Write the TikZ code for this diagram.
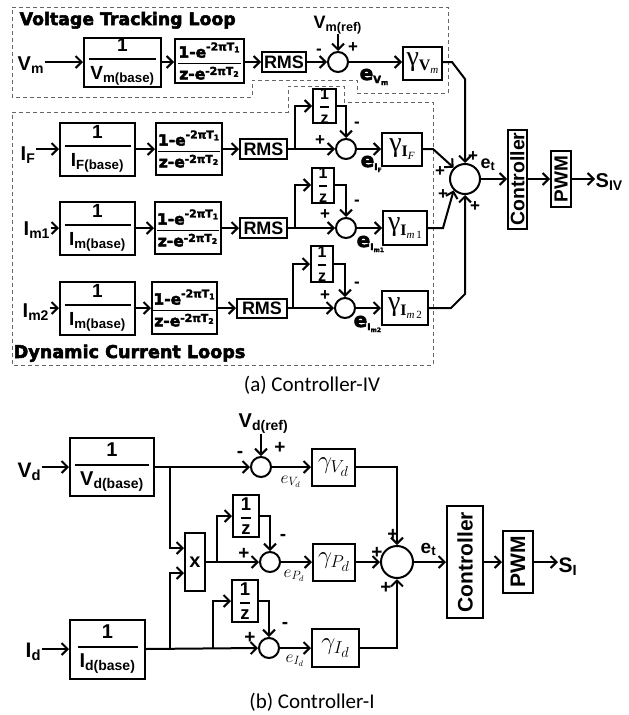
\documentclass[tikz,border=0pt]{standalone}
\usepackage{fontspec}
\usepackage{amsmath}
\usepackage{graphicx}
\usetikzlibrary{arrows.meta}
\setmainfont{Liberation Sans}
\newfontfamily\heavyf{DejaVu Sans}[BoldFeatures={FakeBold=3}]
\newfontfamily\capfont{Carlito}
\newfontfamily\timesfont{Liberation Serif}
\newcommand\fsz[1]{\fontsize{#1}{#1}\selectfont}
\newcommand\lw[3]{\raisebox{-#1pt}{\fsz{#2}#3}}
\newcommand\fracA[2]{$\genfrac{}{}{2pt}{0}{\makebox[#1pt]{\bfseries 1}}{\makebox[#1pt]{\bfseries #2}}$}
\newcommand\fracB{{\heavyf\bfseries\fsz{15.5}$\genfrac{}{}{0.9pt}{0}{\text{1-e}^{\text{-2πT}_{\text{1}}}}{\text{z-e}^{\text{-2πT}_{\text{2}}}}$}}
\newcommand\fracZ[1]{{\fsz{#1}$\genfrac{}{}{1.8pt}{0}{\text{\bfseries 1}}{\text{\bfseries z}}$}}
\tikzset{
  ln/.style={line width=2pt},
  ar/.style={line width=2pt, -{Straight Barb[length=6pt,width=12pt]}},
  blk/.style={draw, line width=2pt, inner sep=0pt},
  sumc/.style={draw, circle, line width=2pt, inner sep=0pt, minimum size=20},
  dsh/.style={draw=black!60, line width=0.9pt, dash pattern=on 4pt off 3pt},
  txt/.style={inner sep=0.5pt},
  sgn/.style={inner sep=0pt, font=\fsz{17}\bfseries},
}
\begin{document}
\begin{tikzpicture}[x=1pt,y=-1pt]
\useasboundingbox (0,0) rectangle (629,715);
% ---------------- dashed regions
\draw[dsh] (12,7) -- (448,7) -- (448,93) -- (357,93) -- (357,80) -- (252,80) -- (252,97) -- (12,97) -- cycle;
\draw[dsh] (12,112) -- (288,112) -- (288,86) -- (344,86) -- (344,102) -- (433,102) -- (433,365) -- (12,365) -- cycle;
\node[txt, anchor=base west] (ttlv) at (19,25) {\heavyf\bfseries\fsz{17.3}Voltage Tracking Loop};
\node[txt, anchor=base west] (ttlc) at (13,358) {\heavyf\bfseries\fsz{17.6}Dynamic Current Loops};
% ---------------- main sum (top)
\node[sumc, minimum size=30] (ms) at (465,179) {};
% ---------------- row V
\node[txt, anchor=base west] (vm) at (17,70) {\fsz{20}\bfseries V\textsubscript{m}};
\node[blk, minimum width=77, minimum height=49] (b1v) at (122.5,62) {\fsz{19}\fracA{67}{V\textsubscript{m(base)}}};
\node[blk, minimum width=69, minimum height=44] (b2v) at (209.5,61) {\fracB};
\node[blk, minimum width=44, minimum height=20] (rmsv) at (284,62) {\fsz{18}\bfseries RMS};
\node[sumc] (sv) at (338,62) {};
\node[txt, anchor=base west] (vmref) at (313,28) {\fsz{18}\bfseries V\textsubscript{m(ref)}};
\node[sgn] (mv) at (319,52) {-};
\node[sgn] (pv) at (353,48) {+};
\node[blk, minimum width=39, minimum height=33] (gv) at (422.5,63) {\timesfont\fsz{28}γ\lw{5}{16}{\textbf{V}\lw{3}{11}{\textit{m}}}};
\node[txt, anchor=base west] (ev) at (359,80) {\heavyf\bfseries\fsz{20}e\lw{3}{10}{V\lw{2}{7}{m}}};
\coordinate (kv1) at (452,62);
\coordinate (kv2) at (465,79);
\draw[ar] (vm.east |- b1v.west) -- (b1v.west);
\draw[ar] (b1v.east) -- (b1v.east -| b2v.west);
\draw[ar] (b2v.east |- rmsv.west) -- (rmsv.west);
\draw[ar] (rmsv.east) -- (sv.west);
\draw[ar] (vmref.south -| sv.north) -- (sv.north);
\draw[ar] (sv.east) -- (sv.east -| gv.west);
\draw[ar] (gv.east |- kv1) -- (kv1) -- (kv2) -- (ms.north);
% ---------------- row F
\node[txt, anchor=base west] (if) at (20,160) {\fsz{20}\bfseries I\textsubscript{F}};
\node[blk, minimum width=75, minimum height=53] (b1f) at (97.5,149) {\fsz{19}\fracA{66}{I\textsubscript{F(base)}}};
\node[blk, minimum width=66, minimum height=52] (b2f) at (189,149) {\fracB};
\node[blk, minimum width=47, minimum height=20] (rmsf) at (263.5,149) {\fsz{18}\bfseries RMS};
\node[blk, minimum width=23, minimum height=34] (zf) at (324.5,106) {\fracZ{16}};
\node[sumc] (sf) at (346,149) {};
\node[blk, minimum width=40, minimum height=33] (gf) at (402,149) {\timesfont\fsz{28}γ\lw{5}{16}{\textbf{I}\lw{3}{11}{\textit{F}}}};
\node[sgn] (mf) at (357,125) {-};
\node[sgn] (pf) at (320,141) {+};
\node[txt, anchor=base west] (ef) at (360,167) {\heavyf\bfseries\fsz{20}e\lw{3}{9}{I\lw{2}{6}{F}}};
\coordinate (bf) at (295,149);
\coordinate (kf) at (433,149);
\draw[ar] (if.east |- b1f.west) -- (b1f.west);
\draw[ar] (b1f.east) -- (b2f.west);
\draw[ar] (b2f.east) -- (rmsf.west);
\draw[ar] (rmsf.east) -- (sf.west);
\draw[ar] (bf) |- (zf.west);
\draw[ar] (zf.east) -| (sf.north);
\draw[ar] (sf.east) -- (gf.west);
\draw[ar] (gf.east) -- (kf) -- (ms.135);
% ---------------- row m1
\node[txt, anchor=base west] (im1) at (23,235) {\fsz{20}\bfseries I\textsubscript{m1}};
\node[blk, minimum width=75, minimum height=53] (b1m) at (97.5,228) {\fsz{19}\fracA{66}{I\textsubscript{m(base)}}};
\node[blk, minimum width=66, minimum height=52] (b2m) at (188,228) {\fracB};
\node[blk, minimum width=47, minimum height=20] (rmsm) at (263.5,228) {\fsz{18}\bfseries RMS};
\node[blk, minimum width=22, minimum height=35] (zm) at (323,185) {\fracZ{16}};
\node[sumc] (sm) at (346,228) {};
\node[blk, minimum width=44, minimum height=34] (gm) at (405,228) {\timesfont\fsz{28}γ\lw{5}{16}{\textbf{I}\lw{3}{11}{\textit{m}\,1}}};
\node[sgn] (mm) at (357,203) {-};
\node[sgn] (pm) at (325,215) {+};
\node[txt, anchor=base west] (em) at (356,247) {\heavyf\bfseries\fsz{20}e\lw{3}{9}{I\lw{2}{6}{m1}}};
\coordinate (bm) at (295,228);
\coordinate (km) at (443,228);
\draw[ar] (im1.east |- b1m.west) -- (b1m.west);
\draw[ar] (b1m.east) -- (b2m.west);
\draw[ar] (b2m.east) -- (rmsm.west);
\draw[ar] (rmsm.east) -- (sm.west);
\draw[ar] (bm) |- (zm.west);
\draw[ar] (zm.east) -| (sm.north);
\draw[ar] (sm.east) -- (gm.west);
\draw[ar] (gm.east) -- (km) -- (ms.225);
% ---------------- row m2
\node[txt, anchor=base west] (im2) at (22,317) {\fsz{20}\bfseries I\textsubscript{m2}};
\node[blk, minimum width=75, minimum height=53] (b1n) at (97.5,308) {\fsz{19}\fracA{66}{I\textsubscript{m(base)}}};
\node[blk, minimum width=65, minimum height=52] (b2n) at (184.5,308) {\fracB};
\node[blk, minimum width=50, minimum height=19] (rmsn) at (262,308) {\fsz{18}\bfseries RMS};
\node[blk, minimum width=22, minimum height=36] (zn) at (322,264) {\fracZ{16}};
\node[sumc] (sn) at (345,308) {};
\node[blk, minimum width=46, minimum height=34] (gn) at (405,308) {\timesfont\fsz{28}γ\lw{5}{16}{\textbf{I}\lw{3}{11}{\textit{m}\,2}}};
\node[sgn] (mn) at (357,285) {-};
\node[sgn] (pn) at (325,296) {+};
\node[txt, anchor=base west] (en) at (353,327) {\heavyf\bfseries\fsz{20}e\lw{3}{9}{I\lw{2}{6}{m2}}};
\coordinate (bn) at (293,308);
\coordinate (kn1) at (451,308);
\coordinate (kn2) at (465,294);
\draw[ar] (im2.east |- b1n.west) -- (b1n.west);
\draw[ar] (b1n.east) -- (b2n.west);
\draw[ar] (b2n.east) -- (rmsn.west);
\draw[ar] (rmsn.east) -- (sn.west);
\draw[ar] (bn) |- (zn.west);
\draw[ar] (zn.east) -| (sn.north);
\draw[ar] (sn.east) -- (gn.west);
\draw[ar] (gn.east) -- (kn1) -- (kn2) -- (ms.south);
% ---------------- output (top)
\node[sgn] (p1) at (473,157) {+};
\node[sgn] (p2) at (440,172) {+};
\node[sgn] (p3) at (443,195) {+};
\node[sgn] (p4) at (475,207) {+};
\node[txt, anchor=base west] (et) at (480,168) {\fsz{18}\bfseries e\textsubscript{t}};
\node[blk, rotate=90, minimum width=99, minimum height=19] (ctrl) at (517.5,179) {\fsz{19.5}\bfseries Controller};
\node[blk, rotate=90, minimum width=56, minimum height=20] (pwm) at (561,179) {\fsz{19}\bfseries PWM};
\node[txt, anchor=base west] (siv) at (595,187) {\fsz{20}\bfseries S\textsubscript{IV}};
\draw[ar] (ms.east) -- (ms.east -| ctrl.north);
\draw[ar] (ctrl.south) -- (pwm.north);
\draw[ar] (pwm.south) -- (pwm.south -| siv.west);
\node[txt] (capa) at (312,385) {\capfont\fsz{21}(a) Controller-IV};
% ================= bottom: Controller-I
\node[sumc, minimum size=32] (ms2) at (397,562) {};
\node[txt, anchor=base west] (vd) at (17,477) {\fsz{21}\bfseries V\textsubscript{d}};
\node[blk, minimum width=84, minimum height=58] (b1vd) at (112,467) {\fsz{20}\fracA{74}{V\textsubscript{d(base)}}};
\node[sumc] (svd) at (261,467) {};
\node[txt, anchor=base west] (vdref) at (238,427) {\fsz{20}\bfseries V\textsubscript{d(ref)}};
\node[sgn, font=\fsz{19}\bfseries] (mvd) at (240,454) {-};
\node[sgn, font=\fsz{19}\bfseries] (pvd) at (280,448) {+};
\node[blk, minimum width=43, minimum height=37] (gvd) at (333.5,467) {\fsz{27}$\gamma_{V_d}$};
\node[txt, anchor=base west] (evd) at (280,483) {\fsz{17}$e_{V_d}$};
\node[blk, minimum width=20, minimum height=58] (xb) at (195,562) {\fsz{20}\bfseries x};
\node[blk, minimum width=26, minimum height=42] (zpd) at (246,516) {\fracZ{18.5}};
\node[sumc] (spd) at (270,562) {};
\node[blk, minimum width=42, minimum height=37] (gpd) at (334,562) {\fsz{27}$\gamma_{P_d}$};
\node[sgn, font=\fsz{19}\bfseries] (ppd) at (244,554) {+};
\node[sgn, font=\fsz{19}\bfseries] (mpd) at (283,537) {-};
\node[txt, anchor=base west] (epd) at (283,577) {\fsz{17}$e_{P_d}$};
\node[txt, anchor=base west] (id) at (25,657) {\fsz{21}\bfseries I\textsubscript{d}};
\node[blk, minimum width=75, minimum height=59] (b1id) at (107.5,649) {\fsz{20}\fracA{60}{I\textsubscript{d(base)}}};
\node[blk, minimum width=26, minimum height=42] (zid) at (245,601) {\fracZ{18.5}};
\node[sumc] (sid) at (269,648) {};
\node[blk, minimum width=47, minimum height=38] (gid) at (335.5,648) {\fsz{27}$\gamma_{I_d}$};
\node[sgn, font=\fsz{19}\bfseries] (pid) at (250,638) {+};
\node[sgn, font=\fsz{19}\bfseries] (mid) at (285,625) {-};
\node[txt, anchor=base west] (eid) at (285,662) {\fsz{17}$e_{I_d}$};
\node[sgn, font=\fsz{19}\bfseries] (q1) at (393,535) {+};
\node[sgn, font=\fsz{19}\bfseries] (q2) at (377,553) {+};
\node[sgn, font=\fsz{19}\bfseries] (q3) at (386,588) {+};
\node[txt, anchor=base west] (et2) at (420,553) {\fsz{19}\bfseries e\textsubscript{t}};
\node[blk, rotate=90, minimum width=112, minimum height=36] (ctrl2) at (465,562) {\fsz{21}\bfseries Controller};
\node[blk, rotate=90, minimum width=62, minimum height=30] (pwm2) at (518,562) {\fsz{21}\bfseries PWM};
\node[txt, anchor=base west] (si) at (558,572) {\fsz{21}\bfseries S\textsubscript{I}};
\coordinate (bv) at (170,467);
\coordinate (bid) at (170,648);
\coordinate (bx) at (217,562);
\coordinate (bz) at (213,648);
\draw[ar] (vd.east |- b1vd.west) -- (b1vd.west);
\draw[ar] (b1vd.east) -- (svd.west);
\draw[ar] (vdref.south -| svd.north) -- (svd.north);
\draw[ar] (svd.east) -- (gvd.west);
\draw[ar] (gvd.east) -| (ms2.north);
\draw[ar] (bv) |- ([yshift=14pt]xb.west);
\draw[ar] (bid) |- ([yshift=-11pt]xb.west);
\draw[ar] (xb.east) -- (spd.west);
\draw[ar] (bx) |- (zpd.west);
\draw[ar] (zpd.east) -| (spd.north);
\draw[ar] (spd.east) -- (gpd.west);
\draw[ar] (gpd.east) -- (ms2.west);
\draw[ar] (id.east |- b1id.west) -- (b1id.west);
\draw[ar] (b1id.east) -- (sid.west);
\draw[ar] (bz) |- (zid.west);
\draw[ar] (zid.east) -| (sid.north);
\draw[ar] (sid.east) -- (gid.west);
\draw[ar] (gid.east) -| (ms2.south);
\draw[ar] (ms2.east) -- (ctrl2.north);
\draw[ar] (ctrl2.south) -- (pwm2.north);
\draw[ar] (pwm2.south) -- (pwm2.south -| si.west);
\node[txt] (capb) at (312,702) {\capfont\fsz{21}(b) Controller-I};
\end{tikzpicture}
\end{document}
